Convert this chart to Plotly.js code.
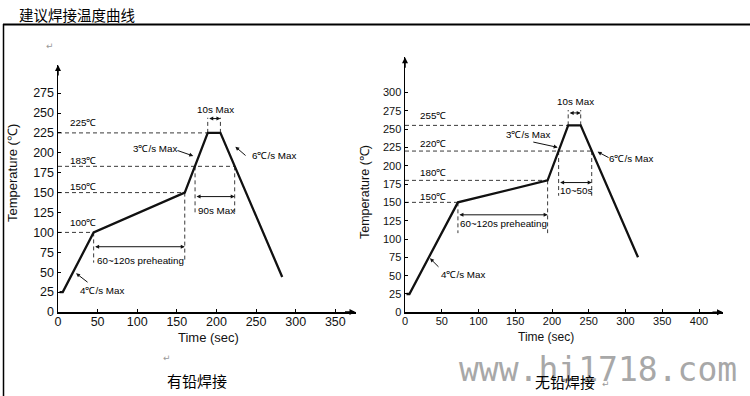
<!DOCTYPE html>
<html>
<head>
<meta charset="utf-8">
<script src="https://cdn.plot.ly/plotly-3.0.1.min.js"></script>
<style>html,body{margin:0;padding:0;background:#fff;}#chart{width:750px;height:396px;}</style>
</head>
<body>
<div id="chart"></div>
<script>
// ---- Data: leaded profile (有铅焊接) ----
const leadTime = [2, 6, 45, 160, 189, 205, 283];
const leadTemp = [25, 25, 100, 150, 225, 225, 44];
const leadLevels = [225, 183, 150, 100];
const leadLevelEnd = [189, 223, 160, 45];
const leadGuideX = [45, 160, 173, 223, 189, 205];
const leadGuideFrom = [100, 150, 183, 183, 225, 225];
const leadGuideTo = [62, 62, 122, 122, 244, 244];
const leadSpanText = ["60~120s preheating", "90s Max", "10s Max"];
const leadSpanStart = [45, 173, 189];
const leadSpanEnd = [160, 223, 205];
const leadSpanLevel = [82, 145, 243];
const leadRateText = ["3℃/s Max", "6℃/s Max", "4℃/s Max"];

// ---- Data: lead-free profile (无铅焊接) ----
const freeTime = [2, 6, 72, 194, 222, 239, 317];
const freeTemp = [25, 25, 150, 180, 255, 255, 75];
const freeLevels = [255, 220, 180, 150];
const freeLevelEnd = [222, 254, 194, 72];
const freeGuideX = [72, 194, 209, 254, 222, 239];
const freeGuideFrom = [150, 180, 220, 220, 255, 255];
const freeGuideTo = [108, 108, 159, 159, 276, 276];
const freeSpanText = ["60~120s preheating", "10~50s", "10s Max"];
const freeSpanStart = [72, 209, 222];
const freeSpanEnd = [194, 254, 239];
const freeSpanLevel = [133, 177, 272];
const freeRateText = ["3℃/s Max", "6℃/s Max", "4℃/s Max"];

// ---- Tick labels ----
const leadXTicks = [0, 50, 100, 150, 200, 250, 300, 350];
const leadYTicks = [0, 25, 50, 75, 100, 125, 150, 175, 200, 225, 250, 275];
const freeXTicks = [0, 50, 100, 150, 200, 250, 300, 350, 400];
const freeYTicks = [0, 25, 50, 75, 100, 125, 150, 175, 200, 225, 250, 275, 300];

const W = 750, H = 396;
const px = v => v / W;
const py = v => 1 - v / H;
const FONT = "Liberation Sans, Arial, sans-serif";
const CJK = "Noto Sans CJK SC, sans-serif";
const DASH = "4px,3px";
const GUIDE = "#3a3a3a";

function guideTraces(levels, ends, gx, gfrom, gto, xa, ya) {
  const hx = [], hy = [];
  levels.forEach((l, i) => { hx.push(0, ends[i], null); hy.push(l, l, null); });
  const vx = [], vy = [];
  gx.forEach((x, i) => { vx.push(x, x, null); vy.push(gfrom[i], gto[i], null); });
  return [
    {x: hx, y: hy, xaxis: xa, yaxis: ya, mode: "lines", line: {color: GUIDE, width: 1, dash: DASH}, hoverinfo: "skip"},
    {x: vx, y: vy, xaxis: xa, yaxis: ya, mode: "lines", line: {color: GUIDE, width: 1, dash: DASH}, hoverinfo: "skip"}
  ];
}

const traces = [
  ...guideTraces(leadLevels, leadLevelEnd, leadGuideX, leadGuideFrom, leadGuideTo, "x", "y"),
  ...guideTraces(freeLevels, freeLevelEnd, freeGuideX, freeGuideFrom, freeGuideTo, "x2", "y2"),
  {x: leadTime, y: leadTemp, xaxis: "x", yaxis: "y", mode: "lines", line: {color: "#111", width: 2.3}, hoverinfo: "skip"},
  {x: freeTime, y: freeTemp, xaxis: "x2", yaxis: "y2", mode: "lines", line: {color: "#111", width: 2.3}, hoverinfo: "skip"}
];

const ann = [];
const small = {family: FONT, size: 9.8, color: "#000"};

function levelLabels(levels, tx, offsets, xr, yr) {
  levels.forEach((l, i) => ann.push({xref: xr, yref: yr, x: tx, y: l + offsets[i], text: l + "℃", showarrow: false, xanchor: "left", yanchor: "middle", font: small}));
}
levelLabels(leadLevels, 12.6, [12.5, 7, 8, 12], "x", "y");
levelLabels(freeLevels, 17.7, [14, 10.5, 10.5, 8.5], "x2", "y2");

function spans(texts, s, e, lv, textOffsets, xr, yr) {
  texts.forEach((t, i) => {
    ann.push({xref: xr, yref: yr, axref: xr, ayref: yr, x: e[i], y: lv[i], ax: s[i], ay: lv[i], text: "", showarrow: true, arrowside: "end+start", arrowhead: 2, arrowsize: 0.8, arrowwidth: 1, arrowcolor: "#111", standoff: 0, startstandoff: 0});
    ann.push({xref: xr, yref: yr, x: (s[i] + e[i]) / 2 + 1.5, y: lv[i] + textOffsets[i], text: t, showarrow: false, xanchor: "center", yanchor: "middle", font: small});
  });
}
spans(leadSpanText, leadSpanStart, leadSpanEnd, leadSpanLevel, [-17.6, -17, 12], "x", "y");
spans(freeSpanText, freeSpanStart, freeSpanEnd, freeSpanLevel, [-12.2, -11.3, 15], "x2", "y2");

function rates(texts, pos, xr, yr) {
  texts.forEach((t, i) => {
    const p = pos[i];
    ann.push({xref: xr, yref: yr, x: p[0], y: p[1], text: t, showarrow: false, xanchor: "center", yanchor: "middle", font: small});
    ann.push({xref: xr, yref: yr, axref: xr, ayref: yr, x: p[4], y: p[5], ax: p[2], ay: p[3], text: "", showarrow: true, arrowhead: 2, arrowsize: 0.8, arrowwidth: 1, arrowcolor: "#111", standoff: 0});
  });
}
rates(leadRateText, [[122, 205, 149, 203.5, 170.7, 196], [272.4, 197, 238.6, 195, 223.8, 207.7], [55, 26.4, 39.2, 36, 22.8, 48.6]], "x", "y");
rates(freeRateText, [[167, 243, 172.5, 232.7, 207.7, 225], [306.8, 210.5, 279, 210, 262, 219], [79, 51, 47.6, 60, 34, 73.6]], "x2", "y2");

// axis arrowheads
[["x", "y", 375.5, 310.3], ["x2", "y2", 432.6, 347.9]].forEach(a => {
  ann.push({xref: a[0], yref: a[1], x: a[2], y: 0, ax: -12, ay: 0, text: "", showarrow: true, arrowhead: 2, arrowsize: 0.8, arrowwidth: 1.5, arrowcolor: "#000", standoff: 0});
  ann.push({xref: a[0], yref: a[1], x: 0, y: a[3], ax: 0, ay: 12, text: "", showarrow: true, arrowhead: 2, arrowsize: 0.8, arrowwidth: 1.5, arrowcolor: "#000", standoff: 0});
});

function paperText(x, y, text, font, extra) {
  ann.push(Object.assign({xref: "paper", yref: "paper", x: px(x), y: py(y), text: text, showarrow: false, xanchor: "center", yanchor: "middle", font: font}, extra || {}));
}

// axis titles
const axTitle = {family: FONT, size: 13, color: "#111"};
paperText(208, 337, "Time (sec)", axTitle);
paperText(545.5, 337, "Time (sec)", {family: FONT, size: 12, color: "#111"});
paperText(12, 173, "Temperature (℃)", axTitle, {textangle: -90});
paperText(365, 192, "Temperature (℃)", {family: FONT, size: 12.5, color: "#111"}, {textangle: -90});

// page texts
paperText(17, 14, "建议焊接温度曲线", {family: CJK, size: 14.5, color: "#000"}, {xanchor: "left"});
paperText(165, 380, "有铅焊接", {family: CJK, size: 15, color: "#000"}, {xanchor: "left"});
paperText(598, 369, "www.hi1718.com", {family: "DejaVu Sans Mono, monospace", size: 33, color: "#a8a8a8"});
paperText(533, 381, "无铅焊接", {family: CJK, size: 15, color: "#000"}, {xanchor: "left"});
[[50, 46], [167, 358], [606, 384]].forEach(p => paperText(p[0], p[1], "↵", {family: "DejaVu Sans", size: 9, color: "#999"}));

function axis(domain, range, ticks, size, standoff) {
  return {domain: domain, range: range, tickvals: ticks, ticktext: ticks.map(String), showgrid: false, zeroline: false,
    showline: true, linecolor: "#000", linewidth: 1.5, ticks: "inside", ticklen: 3, tickwidth: 1, tickcolor: "#000",
    ticklabelstandoff: standoff,
    tickfont: {family: FONT, size: size, color: "#111"}, fixedrange: true, automargin: false};
}

const layout = {
  width: W, height: H, margin: {l: 0, r: 0, t: 0, b: 0}, paper_bgcolor: "#fff", plot_bgcolor: "rgba(0,0,0,0)",
  showlegend: false,
  xaxis: Object.assign(axis([px(58), px(355.5)], [0, 375.5], leadXTicks, 12.5, -3), {anchor: "y"}),
  yaxis: Object.assign(axis([py(312), py(65)], [0, 310.3], leadYTicks, 12.5, 0), {anchor: "x"}),
  xaxis2: Object.assign(axis([px(405), px(723)], [0, 432.6], freeXTicks, 11, -2), {anchor: "y2"}),
  yaxis2: Object.assign(axis([py(312.3), py(57.3)], [0, 347.9], freeYTicks, 11, 0), {anchor: "x2"}),
  annotations: ann,
  shapes: [
    {type: "line", xref: "paper", yref: "paper", x0: px(3), x1: 1, y0: py(24.5), y1: py(24.5), line: {color: "#000", width: 2}},
    {type: "line", xref: "paper", yref: "paper", x0: px(3.5), x1: px(3.5), y0: py(24), y1: 0, line: {color: "#000", width: 1.5}}
  ]
};

Plotly.newPlot("chart", traces, layout, {staticPlot: true, displayModeBar: false});
</script>
</body>
</html>
